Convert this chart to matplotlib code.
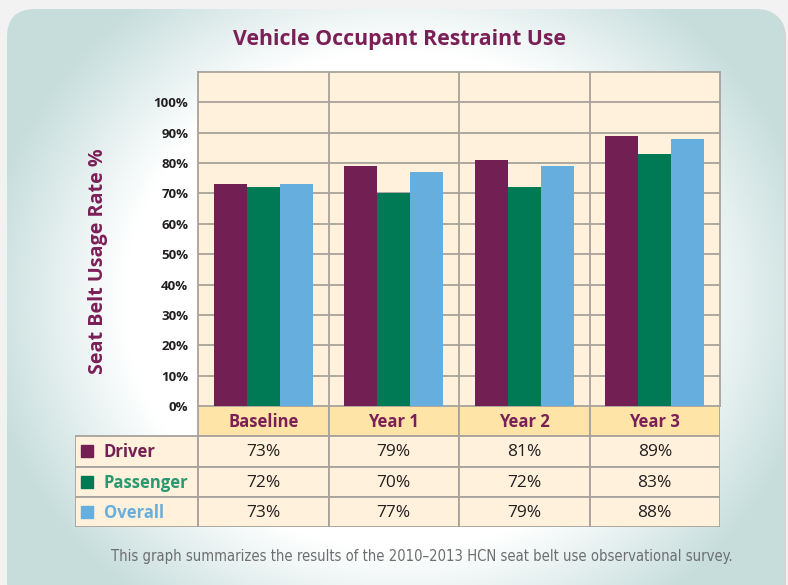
import numpy as np
import matplotlib.pyplot as plt
from matplotlib.patches import Rectangle, FancyBboxPatch

categories = ['Baseline', 'Year 1', 'Year 2', 'Year 3']
series = ['Driver', 'Passenger', 'Overall']
driver = [73, 79, 81, 89]
passenger = [72, 70, 72, 83]
overall = [73, 77, 79, 88]
yticks = [0, 10, 20, 30, 40, 50, 60, 70, 80, 90, 100]

bar_colors = ['#722053', '#007a55', '#66aede']
label_colors = ['#722053', '#2a9870', '#66aede']
purple = '#7b1f57'
cream = '#fff1db'
header = '#ffe4a8'
grid_c = '#a7a29c'
dark = '#231f20'

plt.rcParams['font.family'] = ['Open Sans', 'DejaVu Sans']

W, H = 788, 585
fig = plt.figure(figsize=(W / 100, H / 100), dpi=100)
fig.patch.set_facecolor('#f2f2f2')

# background panel, white centre fading to teal at the edges
bg = fig.add_axes([0, 0, 1, 1], zorder=-5)
bg.set_xlim(0, W)
bg.set_ylim(H, 0)
bg.axis('off')
yy, xx = np.mgrid[0:H:2, 0:W:2]
r = np.sqrt(((xx - 400) / 420.0) ** 2 + ((yy - 300) / 380.0) ** 2)
t = np.clip((r - 0.66) / 0.34, 0, 1)
teal = np.array([0.78, 0.87, 0.865])
white = np.array([1.0, 1.0, 1.0])
img = white[None, None, :] * (1 - t[..., None]) + teal[None, None, :] * t[..., None]
shadow = FancyBboxPatch((8, 11), 778, 600, boxstyle='round,pad=0,rounding_size=28',
                        facecolor='#d4d4d4', edgecolor='none', zorder=-2)
bg.add_patch(shadow)
panel = FancyBboxPatch((7, 9), 777, 600, boxstyle='round,pad=0,rounding_size=28',
                       facecolor='none', edgecolor='none')
bg.add_patch(panel)
im = bg.imshow(img, extent=(0, W, H, 0), aspect='auto', interpolation='bilinear', zorder=0)
im.set_clip_path(panel)

# main bar chart
x0, x1, ytop, ybot = 198, 720, 72, 406
ax = fig.add_axes([x0 / W, 1 - ybot / H, (x1 - x0) / W, (ybot - ytop) / H])
ax.set_facecolor(cream)
x = np.arange(len(categories))
w = 0.253
for k, vals in enumerate([driver, passenger, overall]):
    ax.bar(x + (k - 1) * w, vals, w, color=bar_colors[k], zorder=3)
ax.set_xlim(-0.5, len(categories) - 0.5)
ax.set_ylim(0, 110)
ax.set_yticks(yticks)
ax.set_yticklabels([f'{v}%' for v in yticks], fontsize=9.5, fontweight='bold', color=dark)
ax.set_xticks([])
ax.tick_params(axis='y', length=0, pad=7)
for v in yticks[1:]:
    ax.axhline(v, color=grid_c, lw=1.3, zorder=1)
for s in np.arange(0.5, len(categories) - 0.5):
    ax.axvline(s, color=grid_c, lw=1.3, zorder=1)
for sp in ax.spines.values():
    sp.set_color(grid_c)
    sp.set_linewidth(1.3)
ax.set_ylabel('Seat Belt Usage Rate %', fontsize=14.2, fontweight='bold', color=purple)
ax.yaxis.set_label_coords(-0.172, 0.435)

fig.text(399 / W, 1 - 40 / H, 'Vehicle Occupant Restraint Use', ha='center', va='center',
         fontsize=15.3, fontweight='bold', color=purple)

# data table below
tx0, tybot = 75, 527
lab_w = (x0 - tx0) / ((x1 - x0) / len(categories))
tab = fig.add_axes([tx0 / W, 1 - tybot / H, (x1 - tx0) / W, (tybot - ybot) / H])
tab.set_xlim(-0.5 - lab_w, len(categories) - 0.5)
tab.set_ylim(0, 4)
tab.axis('off')
for j, c in enumerate(categories):
    tab.add_patch(Rectangle((j - 0.5, 3), 1, 1, facecolor=header, edgecolor=grid_c, lw=1.3))
    tab.text(j, 3.47, c, ha='center', va='center', fontsize=12, fontweight='bold', color=purple)
rows = [driver, passenger, overall]
for i, name in enumerate(series):
    y = 2 - i
    tab.add_patch(Rectangle((-0.5 - lab_w, y), lab_w, 1, facecolor=cream,
                            edgecolor=grid_c, lw=1.3))
    tab.plot(-0.5 - lab_w + 0.092, y + 0.5, marker='s', ms=8, color=bar_colors[i])
    tab.text(-0.5 - lab_w + 0.222, y + 0.47, name, ha='left', va='center', fontsize=12,
             fontweight='bold', color=label_colors[i])
    for j, v in enumerate(rows[i]):
        tab.add_patch(Rectangle((j - 0.5, y), 1, 1, facecolor=cream, edgecolor=grid_c, lw=1.3))
        tab.text(j, y + 0.47, f'{v}%', ha='center', va='center', fontsize=12.5, color=dark)

fig.text(422 / W, 1 - 556 / H,
         'This graph summarizes the results of the 2010\u20132013 HCN seat belt use observational survey.',
         ha='center', va='center', fontsize=10.6, color='#6d6e70',
         family='DejaVu Sans', fontstretch='condensed')

fig.savefig('out.png', dpi=100)
